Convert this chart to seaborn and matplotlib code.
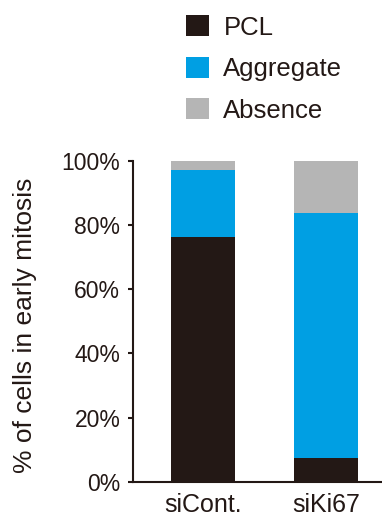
import matplotlib
matplotlib.use("Agg")
import matplotlib.pyplot as plt
import seaborn as sns
import pandas as pd
import numpy as np
from matplotlib.patches import Patch

categories = ["siCont.", "siKi67"]
pcl = [76.3, 7.6]
aggregate = [20.8, 76.2]
absence = [2.9, 16.2]
series_names = ["PCL", "Aggregate", "Absence"]
colors = ["#231815", "#009FE3", "#B5B5B5"]
yticks = [0, 20, 40, 60, 80, 100]
ytick_labels = ["0%", "20%", "40%", "60%", "80%", "100%"]

sns.set_theme(style="white")
plt.rcParams["font.family"] = ["Liberation Sans", "DejaVu Sans"]
txt = "#231815"

df = pd.DataFrame({"cat": categories, "PCL": pcl, "Aggregate": aggregate, "Absence": absence})
df["c1"] = df["PCL"]
df["c2"] = df["PCL"] + df["Aggregate"]
df["c3"] = df["c2"] + df["Absence"]

fig = plt.figure(figsize=(3.82, 5.19), dpi=100)
ax = fig.add_axes([133/382, 37/519, 1 - 133/382, (482 - 160.7)/519])

for col, c in zip(["c3", "c2", "c1"], colors[::-1]):
    sns.barplot(data=df, x="cat", y=col, color=c, width=0.52, ax=ax,
                saturation=1, linewidth=0, edgecolor="none")

ax.set_xlim(-0.569, 1.455)
ax.set_ylim(0, 100)
ax.set_yticks(yticks)
ax.set_yticklabels(ytick_labels)
ax.set_xlabel("")
ax.set_ylabel("% of cells in early mitosis", fontsize=19, color=txt)
ax.yaxis.set_label_coords((37 - 133)/249, (482 - 325)/321.3)
ax.tick_params(axis="y", length=3.6, width=1.5, color=txt, labelsize=16.5, labelcolor=txt, pad=5.5, left=True)
ax.tick_params(axis="x", length=0, labelsize=18, labelcolor=txt, pad=8)
for s in ["top", "right"]:
    ax.spines[s].set_visible(False)
for s in ["left", "bottom"]:
    ax.spines[s].set_linewidth(1.5)
    ax.spines[s].set_color(txt)

handles = [Patch(facecolor=c, edgecolor="none") for c in colors]
fig.legend(handles, series_names, loc="upper left", bbox_to_anchor=(163/382, 1 + 8/519),
           frameon=False, fontsize=18.5, handlelength=0.9, handleheight=0.9,
           handletextpad=0.55, labelspacing=0.66, labelcolor=txt)

fig.savefig("out.png", dpi=100)
